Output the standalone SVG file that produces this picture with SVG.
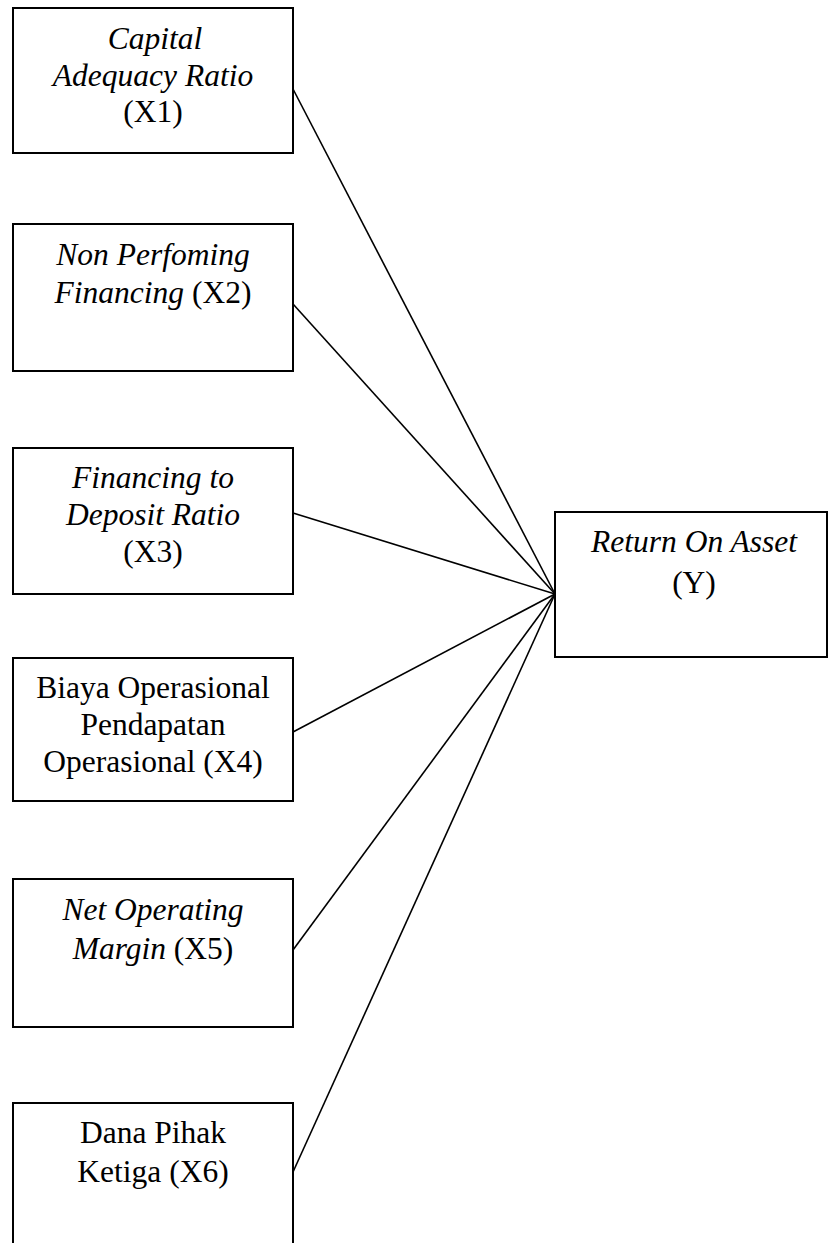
<svg xmlns="http://www.w3.org/2000/svg" width="828" height="1243" viewBox="0 0 828 1243">
<style>
.box{fill:#fff;stroke:#000;stroke-width:2}
.t{font-family:"Liberation Serif","Times New Roman",serif;font-size:31.5px;fill:#000;text-anchor:middle}
.i{font-style:italic}
.c{stroke:#000;stroke-width:1.6;fill:none}
</style>
<rect width="828" height="1243" fill="#fff"/>
<g id="connectors">
<line class="c" x1="293" y1="89" x2="555" y2="594"/>
<line class="c" x1="293" y1="304" x2="555" y2="594"/>
<line class="c" x1="293" y1="513" x2="555" y2="594"/>
<line class="c" x1="293" y1="732" x2="555" y2="594"/>
<line class="c" x1="293" y1="950" x2="555" y2="594"/>
<line class="c" x1="293" y1="1172" x2="555" y2="594"/>
</g>
<g id="x1">
<rect class="box" x="13" y="8" width="280" height="145"/>
<text class="t" x="155" y="49"><tspan class="i">Capital</tspan></text>
<text class="t" x="153" y="86"><tspan class="i">Adequacy Ratio</tspan></text>
<text class="t" x="153" y="122">(X1)</text>
</g>
<g id="x2">
<rect class="box" x="13" y="224" width="280" height="147"/>
<text class="t" x="153" y="265"><tspan class="i">Non Perfoming</tspan></text>
<text class="t" x="153" y="303"><tspan class="i">Financing</tspan> (X2)</text>
</g>
<g id="x3">
<rect class="box" x="13" y="448" width="280" height="146"/>
<text class="t" x="153" y="488"><tspan class="i">Financing to</tspan></text>
<text class="t" x="153" y="525"><tspan class="i">Deposit Ratio</tspan></text>
<text class="t" x="153" y="562">(X3)</text>
</g>
<g id="x4">
<rect class="box" x="13" y="658" width="280" height="143"/>
<text class="t" x="153" y="698">Biaya Operasional</text>
<text class="t" x="153" y="735">Pendapatan</text>
<text class="t" x="153" y="772">Operasional (X4)</text>
</g>
<g id="x5">
<rect class="box" x="13" y="879" width="280" height="148"/>
<text class="t" x="153" y="920"><tspan class="i">Net Operating</tspan></text>
<text class="t" x="153" y="959"><tspan class="i">Margin</tspan> (X5)</text>
</g>
<g id="x6">
<path class="box" d="M13,1250 V1103 H293 V1250"/>
<text class="t" x="153" y="1143">Dana Pihak</text>
<text class="t" x="153" y="1182">Ketiga (X6)</text>
</g>
<g id="y">
<rect class="box" x="555" y="512" width="272" height="145"/>
<text class="t" x="694" y="552"><tspan class="i">Return On Asset</tspan></text>
<text class="t" x="694" y="593">(Y)</text>
</g>
</svg>
